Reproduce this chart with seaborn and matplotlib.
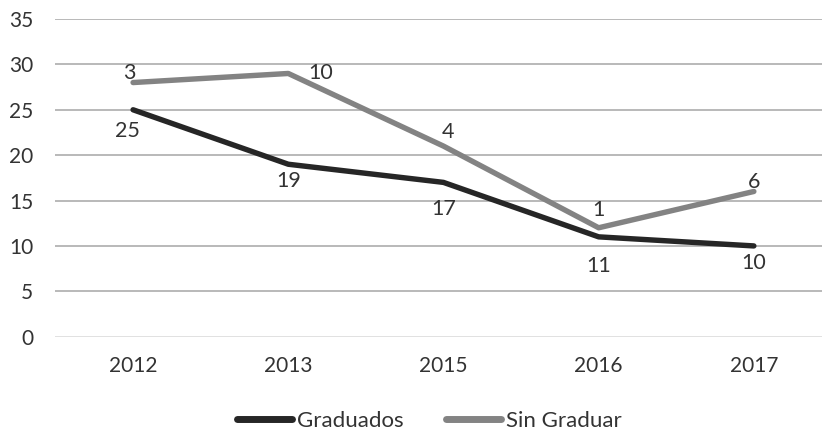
import pandas as pd
import matplotlib
matplotlib.use("Agg")
import matplotlib.pyplot as plt
import seaborn as sns

# datos (gráfico de líneas apiladas)
anios = ["2012", "2013", "2015", "2016", "2017"]
graduados = [25, 19, 17, 11, 10]
sin_graduar = [3, 10, 4, 1, 6]
series = ["Graduados", "Sin Graduar"]
y_ticks = [0, 5, 10, 15, 20, 25, 30, 35]

# desplazamiento de las etiquetas (en puntos)
off_grad = [(-4, -15), (0, -12), (0, -19), (0, -21), (0, -12)]
off_sin = [(-3, 7), (23, 0), (3, 10), (0, 13), (0, 7)]

TEXT = "#333333"
sns.set_theme(style="white")
plt.rcParams["font.family"] = ["Lato", "DejaVu Sans"]

apilado = [g + s for g, s in zip(graduados, sin_graduar)]
df = pd.DataFrame({
    "anio": anios * 2,
    "valor": graduados + apilado,
    "serie": [series[0]] * len(anios) + [series[1]] * len(anios),
})

fig, ax = plt.subplots(figsize=(8.22, 4.32), dpi=100)
ax.set_position([0.0675, 0.2206, 0.944, 0.7354])

sns.lineplot(data=df, x="anio", y="valor", hue="serie",
             palette={"Graduados": "#262626", "Sin Graduar": "#838383"},
             linewidth=3.9, ax=ax, legend=False, sort=False)

for i, (g, a) in enumerate(zip(graduados, apilado)):
    ax.annotate(str(g), (i, g), xytext=off_grad[i], textcoords="offset points",
                ha="center", va="center", fontsize=15.5, color=TEXT)
    ax.annotate(str(sin_graduar[i]), (i, a), xytext=off_sin[i], textcoords="offset points",
                ha="center", va="center", fontsize=15.5, color=TEXT)

ax.set_xlim(-0.5, 4.5)
ax.set_ylim(0, 35)
ax.set_yticks(y_ticks)
ax.yaxis.grid(True, color="#a6a6a6", linewidth=1.1)
ax.yaxis.get_gridlines()[0].set_color("#d9d9d9")
ax.set_axisbelow(True)
for s in ax.spines.values():
    s.set_visible(False)
ax.tick_params(axis="y", length=0, pad=16, labelsize=15, labelcolor=TEXT)
ax.tick_params(axis="x", length=0, pad=14, labelsize=15, labelcolor=TEXT)
ax.set_xlabel("")
ax.set_ylabel("")

handles = [plt.Line2D([], [], color="#262626", linewidth=5, solid_capstyle="round"),
           plt.Line2D([], [], color="#838383", linewidth=5, solid_capstyle="round")]
fig.legend(handles, series, loc="center", bbox_to_anchor=(0.522, 0.026),
           ncol=2, frameon=False, fontsize=16, labelcolor=TEXT,
           handlelength=2.5, handletextpad=0.2, columnspacing=1.9)

plt.savefig("out.png", dpi=100)
plt.close()
